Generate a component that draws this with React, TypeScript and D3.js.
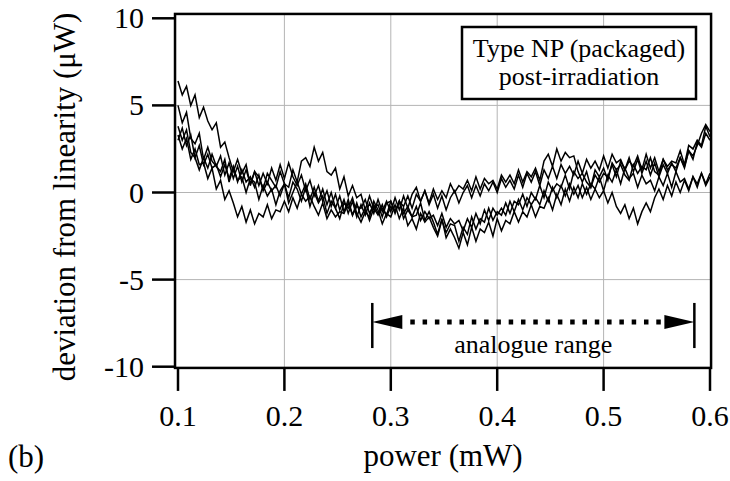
import React from "react";
import * as d3 from "d3";

// sample grid of the measured power (mW)
const POWER_START = 0.1;
const POWER_STEP = 0.004;

// five measurement runs: deviation from linearity (µW)
const run1 = [
  6.4,5.6,6.1,5.0,5.6,4.3,4.9,4.1,3.6,4.0,
  2.6,2.9,2.0,1.2,1.9,1.1,1.6,0.4,1.2,0.9,
  0.2,1.1,0.7,0.3,1.2,0.5,-0.3,0.6,0.2,-0.5,
  0.3,-0.8,0.0,-0.6,-0.2,-1.2,-0.5,-0.9,-1.5,-0.6,
  -0.9,-0.3,-1.2,-1.7,-1.1,-1.4,-0.5,-1.0,-1.8,-1.2,
  -1.4,-0.7,-1.5,-0.9,-1.9,-1.5,-2.1,-1.2,-1.7,-1.4,
  -2.0,-2.5,-1.6,-2.3,-1.8,-1.9,-2.8,-2.0,-2.4,-1.4,
  -2.1,-1.5,-1.7,-0.9,-1.6,-1.1,-1.3,-0.6,-1.2,-0.5,
  -0.7,-0.1,-0.8,0.0,-0.4,0.4,-0.3,0.6,0.1,0.5,
  0.3,1.0,0.2,1.2,0.8,1.1,0.6,0.3,1.3,0.9,
  1.4,0.7,1.7,1.3,1.6,1.0,0.7,1.6,1.1,1.5,
  1.3,2.0,1.2,1.0,1.9,1.5,1.8,1.7,2.4,1.6,
  2.7,2.5,3.0,2.7,3.8,3.2,
];
const run2 = [
  5.0,4.0,4.6,3.1,2.8,3.4,1.9,2.6,1.8,1.5,
  1.2,1.9,0.6,1.4,0.7,0.9,0.0,0.8,0.6,-0.4,
  0.4,-0.2,0.2,-0.7,0.1,0.5,0.3,1.3,0.6,1.8,
  2.0,1.5,2.6,1.8,2.3,1.2,1.0,1.4,0.2,0.9,
  -0.2,0.4,-0.3,-0.1,-1.0,-0.2,-0.9,-0.7,-1.4,-0.6,
  -0.5,-1.2,-0.5,-1.5,-1.0,-1.4,-1.3,-0.6,-1.6,-1.1,
  -1.7,-2.4,-1.5,-2.6,-2.1,-2.6,-3.2,-2.3,-3.0,-2.0,
  -2.8,-2.1,-2.3,-1.7,-2.5,-1.5,-2.2,-1.6,-1.8,-1.1,
  -1.7,-1.1,-1.4,-0.7,-1.4,-0.8,-0.9,-0.3,-1.0,-0.1,
  -0.7,0.2,-0.5,0.3,-0.3,0.5,-0.1,0.5,0.2,0.9,
  0.1,1.0,0.6,1.3,0.5,1.4,0.8,1.1,0.3,1.0,
  0.5,0.7,0.1,0.9,0.4,1.1,0.3,1.2,0.6,0.8,
  0.2,0.9,0.5,1.1,0.5,1.1,
];
const run3 = [
  3.3,2.5,3.1,1.9,2.5,1.6,1.7,0.8,1.4,0.2,
  0.7,-0.4,0.1,-0.6,-1.4,-0.8,-1.7,-1.0,-1.8,-1.2,
  -1.4,-0.7,-1.5,-1.0,-1.1,-0.5,-1.1,-0.3,-0.9,-0.1,
  -0.5,-0.2,-0.8,-1.3,-0.6,-1.5,-1.0,-1.4,-1.1,-1.2,
  -0.6,-1.3,-0.8,-0.9,-0.4,-1.2,-0.7,-1.2,-0.9,-1.3,
  -0.5,-1.1,-0.5,-0.8,-0.2,-0.9,-0.1,-0.5,0.1,-0.6,
  0.2,-0.4,0.1,-0.3,0.5,0.0,0.4,0.2,0.7,0.1,
  0.9,0.2,0.8,0.5,0.7,0.2,1.0,0.6,1.0,0.5,
  1.3,0.6,1.2,0.9,1.4,0.7,1.8,2.2,1.5,2.5,
  1.8,2.3,2.0,2.1,1.2,0.6,1.2,0.3,1.0,0.6,
  1.1,0.9,1.6,0.9,1.8,1.3,1.8,1.5,2.1,1.3,
  2.2,1.4,2.0,1.2,1.9,1.3,1.6,1.4,2.0,1.5,
  2.4,1.9,2.9,2.6,3.4,3.0,
];
const run4 = [
  3.0,3.7,2.7,3.3,2.0,2.7,1.6,2.2,1.4,1.6,
  0.9,1.6,0.8,1.5,0.6,1.3,0.6,0.9,0.3,1.0,
  0.1,0.6,0.1,0.4,-0.2,0.5,-0.6,0.0,0.6,-0.1,
  0.5,-0.4,0.3,-0.5,0.2,-0.7,0.0,-0.9,-0.2,-1.1,
  -0.4,-1.3,-0.6,-1.4,-0.9,-1.6,-0.9,-1.3,-0.7,-1.4,
  -0.8,-1.1,-0.5,-1.2,-0.8,-1.4,-0.8,-1.6,-1.1,-1.5,
  -1.3,-1.9,-1.2,-2.0,-1.5,-1.8,-1.6,-2.2,-1.5,-2.0,
  -1.2,-1.8,-1.0,-1.6,-0.9,-1.3,-0.9,-1.3,-0.5,-1.1,
  -0.4,-1.0,-0.3,-0.7,-0.3,-0.7,0.1,-0.5,0.3,-0.3,
  0.4,-0.2,0.5,-0.1,0.4,-0.3,0.3,-0.4,0.2,-0.3,
  0.1,-0.6,0.0,-0.8,-1.2,-0.7,-1.5,-0.9,-1.8,-1.1,
  -0.6,-1.1,-0.3,0.2,-0.4,0.4,-0.2,0.6,0.0,0.7,
  0.1,0.9,0.3,1.1,0.4,0.9,
];
const run5 = [
  3.8,3.0,3.6,2.3,2.0,1.3,2.0,1.4,2.2,1.5,
  2.1,1.0,1.7,0.8,1.5,0.6,1.3,0.5,1.2,0.4,
  1.1,0.5,1.4,0.7,1.6,0.8,1.7,0.9,0.4,1.0,
  0.1,0.7,-0.2,0.4,-0.5,0.1,-0.8,-0.1,-1.0,-0.4,
  -1.2,-0.5,-1.4,-0.7,-1.3,-0.6,-1.2,-0.4,-1.1,-0.5,
  -1.1,-0.3,-1.0,-0.2,-0.9,-0.1,0.3,-0.5,0.1,-0.7,
  -0.1,-0.9,-0.2,-1.0,-0.3,0.1,-0.6,0.0,0.4,-0.3,
  0.4,-0.2,0.5,0.1,0.6,0.0,0.8,0.3,0.7,0.2,
  1.0,0.3,1.1,0.6,1.2,0.4,1.3,0.8,1.5,0.8,
  1.6,1.1,1.5,1.0,1.8,1.1,1.9,1.4,1.8,1.3,
  2.1,1.4,2.2,1.7,1.9,1.3,2.0,1.2,1.9,1.1,
  1.8,1.0,1.7,0.9,1.6,1.1,1.7,1.2,2.0,1.4,
  2.4,2.1,2.7,3.4,3.9,3.5,
];
const runs = [run1, run2, run3, run4, run5];

const xTicks = [0.1, 0.2, 0.3, 0.4, 0.5, 0.6];
const yTicks = [10, 5, 0, -5, -10];
const xGrid = [0.2, 0.3, 0.4, 0.5];
const yGrid = [5, 0, -5];

// analogue range annotation (mW) and its height (µW)
const rangeStart = 0.2826;
const rangeEnd = 0.5853;
const rangeLevel = -7.43;
const rangeBarTop = -6.34;
const rangeBarBottom = -8.93;

const legendLines = ["Type NP (packaged)", "post-irradiation"];

const W = 730;
const H = 481;
const FONT = "Liberation Serif";

export default function App() {
  const x = d3.scaleLinear().domain([0.1, 0.6]).range([178, 710]);
  const y = d3.scaleLinear().domain([-10, 10]).range([366.7, 18.3]);
  const fx0 = x(0.0972);
  const fx1 = x(0.601);
  const fy0 = y(10.25);
  const fy1 = y(-10.07);

  const line = d3
    .line<number>()
    .x((_, i) => x(POWER_START + i * POWER_STEP))
    .y((d) => y(d));

  const ay = y(rangeLevel);
  const ax0 = x(rangeStart);
  const ax1 = x(rangeEnd);
  const headLen = 30;
  const headHalf = 7;
  const txt = { fontFamily: FONT, fill: "#000" } as React.CSSProperties;

  return (
    <svg
      width={W}
      height={H}
      viewBox={`0 0 ${W} ${H}`}
      style={{ position: "absolute", left: 0, top: 0, background: "#fff", fontFamily: FONT }}
    >
      <rect x={0} y={0} width={W} height={H} fill="#fff" />
      {/* grid */}
      {xGrid.map((g) => (
        <line key={"xg" + g} x1={x(g)} x2={x(g)} y1={fy0} y2={fy1} stroke="#b4b4b4" strokeWidth={1} />
      ))}
      {yGrid.map((g) => (
        <line key={"yg" + g} x1={fx0} x2={fx1} y1={y(g)} y2={y(g)} stroke="#b4b4b4" strokeWidth={1} />
      ))}
      {/* traces */}
      {runs.map((r, i) => (
        <path key={"r" + i} d={line(r) || ""} fill="none" stroke="#000" strokeWidth={1.5} strokeLinejoin="miter" />
      ))}
      {/* frame */}
      <rect x={fx0} y={fy0} width={fx1 - fx0} height={fy1 - fy0} fill="none" stroke="#000" strokeWidth={2.5} />
      {/* y ticks */}
      {yTicks.map((t) => (
        <g key={"yt" + t}>
          <line x1={fx0 - 23} x2={fx0} y1={y(t)} y2={y(t)} stroke="#000" strokeWidth={2.5} />
          <text x={144} y={y(t) + 10} textAnchor="end" fontSize={30} style={txt}>
            {t}
          </text>
        </g>
      ))}
      {/* x ticks */}
      {xTicks.map((t) => (
        <g key={"xt" + t}>
          <line x1={x(t)} x2={x(t)} y1={fy1} y2={fy1 + 23} stroke="#000" strokeWidth={2.5} />
          <text x={x(t)} y={426} textAnchor="middle" fontSize={30} style={txt}>
            {t.toFixed(1)}
          </text>
        </g>
      ))}
      {/* axis titles */}
      <text x={(fx0 + fx1) / 2} y={466} textAnchor="middle" fontSize={31} style={txt}>
        power (mW)
      </text>
      <text
        transform={`translate(75, ${(fy0 + fy1) / 2 + 6}) rotate(-90)`}
        textAnchor="middle"
        fontSize={31}
        style={txt}
      >
        deviation from linearity (μW)
      </text>
      <text x={8} y={467} fontSize={31} style={txt}>
        (b)
      </text>
      {/* legend */}
      <rect x={462} y={27} width={234} height={72} fill="#fff" stroke="#000" strokeWidth={2.5} />
      <text x={579} y={57} textAnchor="middle" fontSize={26} style={txt}>
        {legendLines[0]}
      </text>
      <text x={579} y={85} textAnchor="middle" fontSize={26} style={txt}>
        {legendLines[1]}
      </text>
      {/* analogue range annotation */}
      <line x1={ax0} x2={ax0} y1={y(rangeBarTop)} y2={y(rangeBarBottom)} stroke="#000" strokeWidth={2.5} />
      <line x1={ax1} x2={ax1} y1={y(rangeBarTop)} y2={y(rangeBarBottom)} stroke="#000" strokeWidth={2.5} />
      <path d={`M${ax0},${ay} L${ax0 + headLen},${ay - headHalf} L${ax0 + headLen},${ay + headHalf} Z`} fill="#000" />
      <path d={`M${ax1},${ay} L${ax1 - headLen},${ay - headHalf} L${ax1 - headLen},${ay + headHalf} Z`} fill="#000" />
      <line
        x1={ax0 + headLen + 8}
        x2={ax1 - headLen - 2}
        y1={ay}
        y2={ay}
        stroke="#000"
        strokeWidth={5}
        strokeDasharray="4.5 7.8"
      />
      <text x={(ax0 + ax1) / 2} y={353} textAnchor="middle" fontSize={26} style={txt}>
        analogue range
      </text>
    </svg>
  );
}
